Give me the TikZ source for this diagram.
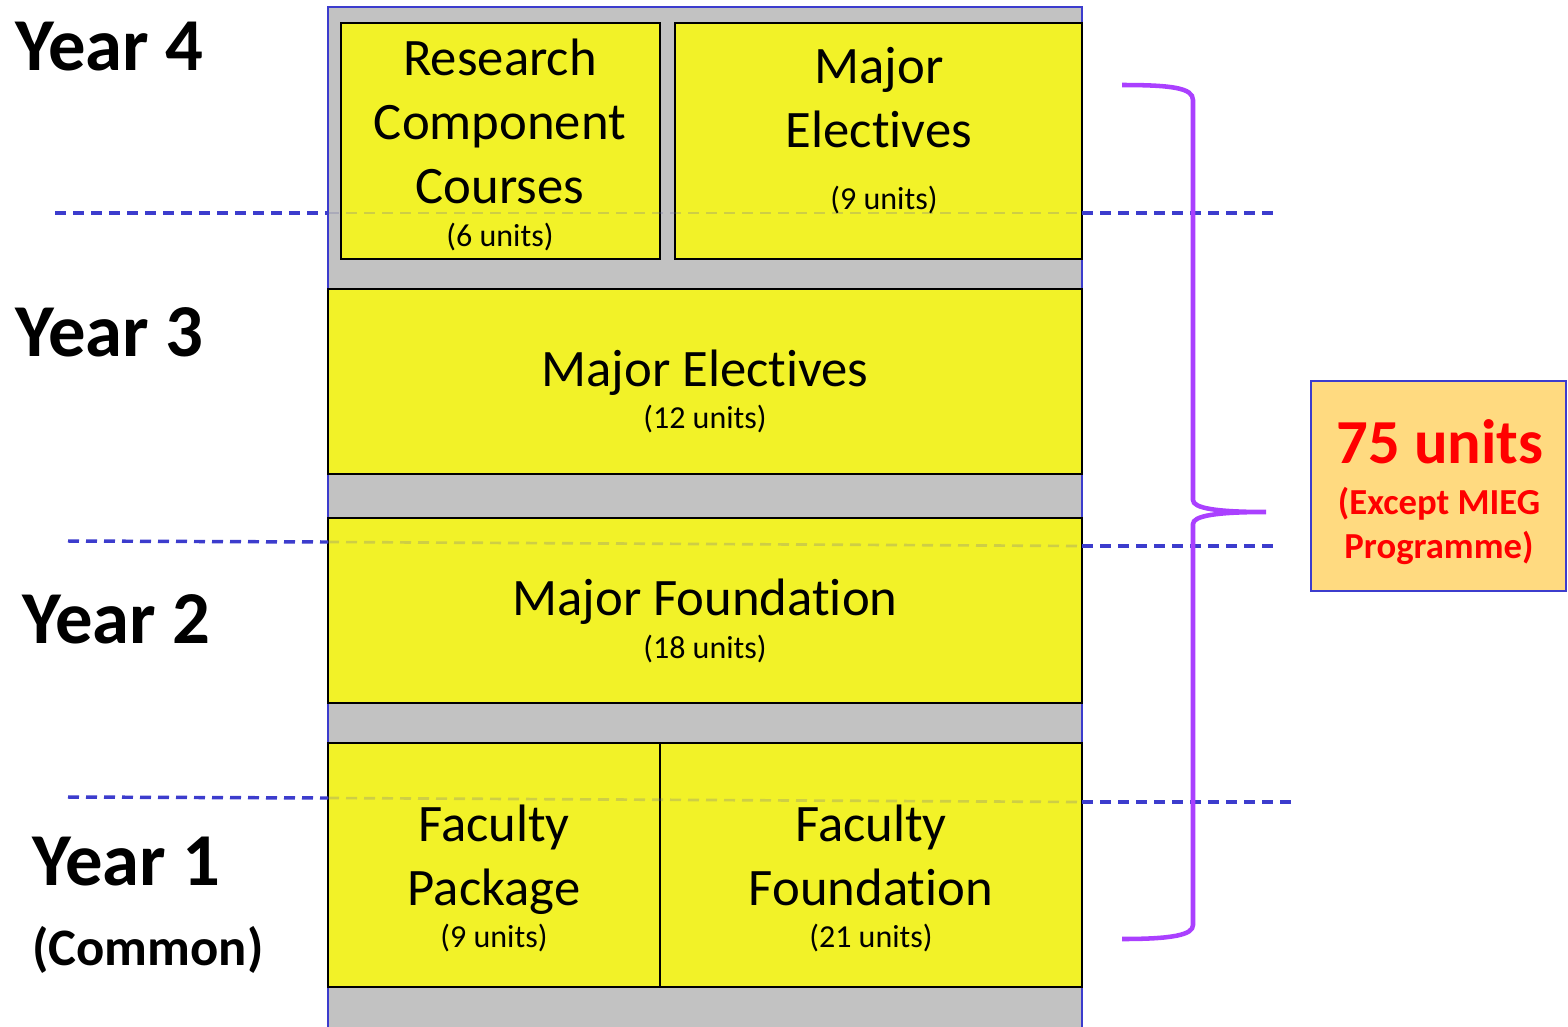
\documentclass[tikz,border=0pt]{standalone}
\usepackage{fontspec}
\setmainfont[Ligatures=NoCommon]{Carlito}
\definecolor{boxyellow}{RGB}{242,242,40}
\definecolor{panelgray}{RGB}{194,194,194}
\definecolor{edgeblue}{RGB}{60,60,205}
\definecolor{bracepurple}{RGB}{170,64,255}
\definecolor{unitorange}{RGB}{255,218,128}
\definecolor{unitred}{RGB}{255,0,0}
\begin{document}
\begin{tikzpicture}[x=0.75pt,y=-0.75pt,
  ybox/.style={fill=boxyellow, draw=black, line width=1.5pt},
  bigtxt/.style={font=\fontsize{39.5}{47}\selectfont, anchor=base, inner sep=0pt},
  smalltxt/.style={font=\fontsize{24}{28}\selectfont, anchor=base, inner sep=0pt},
  yeartxt/.style={font=\bfseries\fontsize{56}{62}\selectfont, anchor=base west, inner sep=0pt},
  yearline/.style={edgeblue, line width=2.6pt, dash pattern=on 8.25pt off 5.25pt},
  faintline/.style={edgeblue!40!gray, opacity=0.25, line width=2pt, dash pattern=on 8.25pt off 5.25pt},
  bracestyle/.style={bracepurple, line width=3.4pt}]
\useasboundingbox (0,0) rectangle (1568,1026);
\clip (0,0) rectangle (1568,1026);

% container
\fill[panelgray] (328,7) rectangle (1082,1040);
\draw[edgeblue, line width=2pt] (328,1040) -- (328,7) -- (1082,7) -- (1082,1040);

% boxes
\draw[ybox] (341,23) rectangle (660,259);
\draw[ybox] (675,23) rectangle (1082,259);
\draw[ybox] (328,289) rectangle (1082,474);
\draw[ybox] (328,518) rectangle (1082,703);
\draw[ybox] (328,743) rectangle (660,987);
\draw[ybox] (660,743) rectangle (1082,987);

% year separator lines
\draw[yearline] (55,213) -- (328,213);
\draw[faintline] (328,213) -- (1082,213);
\draw[yearline] (1082,213) -- (1278,213);
\draw[yearline] (68,541) -- (328,542);
\draw[faintline] (328,542) -- (1082,546);
\draw[yearline] (1082,546) -- (1275,546);
\draw[yearline] (68,797) -- (328,798);
\draw[faintline] (328,798) -- (1082,802);
\draw[yearline] (1082,802) -- (1293,802);

% box texts
\node[bigtxt] (rc1) at (500,75) {Research};
\node[bigtxt] (rc2) at (500,139) {Component};
\node[bigtxt] (rc3) at (500,203) {Courses};
\node[smalltxt] (rc4) at (500,246) {(6 units)};

\node[bigtxt] (me1) at (879,83) {Major};
\node[bigtxt] (me2) at (879,147) {Electives};
\node[smalltxt] (me3) at (884,209) {(9 units)};

\node[bigtxt] (mt1) at (705,386) {Major Electives};
\node[smalltxt] (mt2) at (705,428) {(12 units)};

\node[bigtxt] (mf1) at (705,615) {Major Foundation};
\node[smalltxt] (mf2) at (705,658) {(18 units)};

\node[bigtxt] (fp1) at (494,841) {Faculty};
\node[bigtxt] (fp2) at (494,905) {Package};
\node[smalltxt] (fp3) at (494,947) {(9 units)};

\node[bigtxt] (ff1) at (871,841) {Faculty};
\node[bigtxt] (ff2) at (871,905) {Foundation};
\node[smalltxt] (ff3) at (871,947) {(21 units)};

% year labels
\node[yeartxt] (y4) at (15,70) {Year 4};
\node[yeartxt] (y3) at (15,356) {Year 3};
\node[yeartxt] (y2) at (22,643) {Year 2};
\node[yeartxt] (y1) at (32,885) {Year 1};
\node[font=\bfseries\fontsize{39.5}{47}\selectfont, anchor=base west, inner sep=0pt] (yc) at (32,965) {(Common)};

% brace
\coordinate (bt) at (1122,85);
\coordinate (btip) at (1266,512);
\coordinate (bb) at (1122,939);
\draw[bracestyle] (bt) .. controls (1172,85) and (1193,88) .. (1193,100)
  -- (1193,500) .. controls (1193,508) and (1215,512) .. (btip)
  .. controls (1215,512) and (1193,516) .. (1193,524)
  -- (1193,925) .. controls (1193,935) and (1172,939) .. (bb);

% total box
\draw[fill=unitorange, draw=edgeblue, line width=1.6pt] (1311,381) rectangle (1566,591);
\node[font=\bfseries\fontsize{47}{52}\selectfont, text=unitred, anchor=base, inner sep=0pt] (tot) at (1440,463) {75 units};
\node[font=\bfseries\fontsize{27.5}{33}\selectfont, text=unitred, anchor=base, inner sep=0pt] (ex1) at (1439,514) {(Except MIEG};
\node[font=\bfseries\fontsize{27.5}{33}\selectfont, text=unitred, anchor=base, inner sep=0pt] (ex2) at (1439,558) {Programme)};
\end{tikzpicture}
\end{document}
